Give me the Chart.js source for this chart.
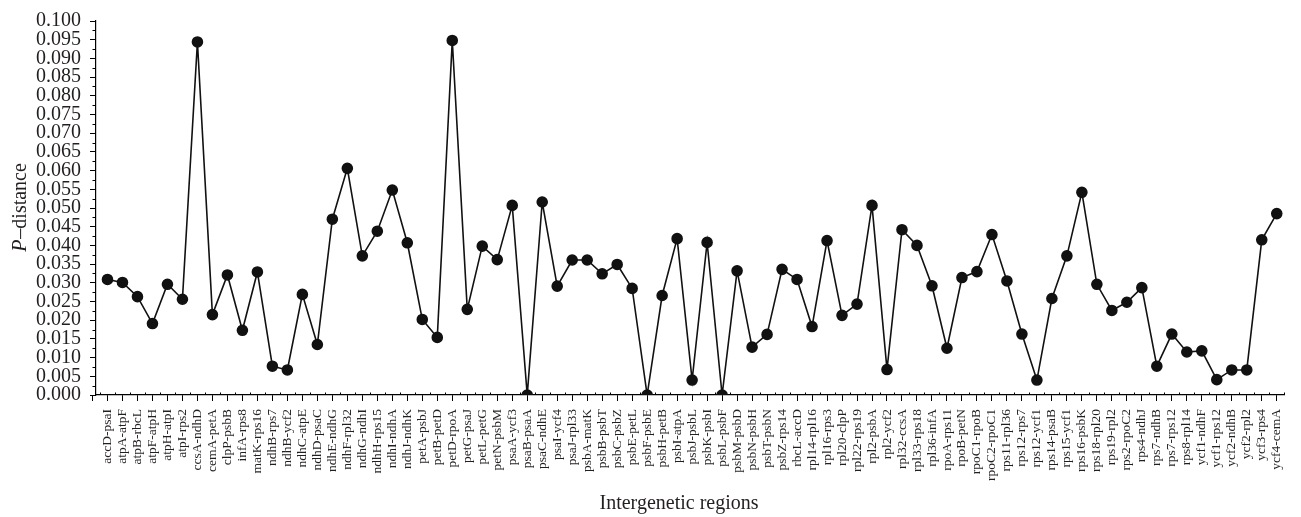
<!DOCTYPE html>
<html>
<head>
<meta charset="utf-8">
<script src="https://cdn.jsdelivr.net/npm/chart.js@4"></script>
<style>
  html, body { margin: 0; padding: 0; background: #fff; }
  #wrap { width: 1301px; height: 517px; position: relative; }
</style>
</head>
<body>
<div id="wrap"><canvas id="c" width="1301" height="517"></canvas></div>
<script>
const categories = [
  "accD-psaI","atpA-atpF","atpB-rbcL","atpF-atpH","atpH-atpI","atpI-rps2","ccsA-ndhD","cemA-petA",
  "clpP-psbB","infA-rps8","matK-rps16","ndhB-rps7","ndhB-ycf2","ndhC-atpE","ndhD-psaC","ndhE-ndhG",
  "ndhF-rpl32","ndhG-ndhI","ndhH-rps15","ndhI-ndhA","ndhJ-ndhK","petA-psbJ","petB-petD","petD-rpoA",
  "petG-psaJ","petL-petG","petN-psbM","psaA-ycf3","psaB-psaA","psaC-ndhE","psaI-ycf4","psaJ-rpl33",
  "psbA-matK","psbB-psbT","psbC-psbZ","psbE-petL","psbF-psbE","psbH-petB","psbI-atpA","psbJ-psbL",
  "psbK-psbI","psbL-psbF","psbM-psbD","psbN-psbH","psbT-psbN","psbZ-rps14","rbcL-accD","rpl14-rpl16",
  "rpl16-rps3","rpl20-clpP","rpl22-rps19","rpl2-psbA","rpl2-ycf2","rpl32-ccsA","rpl33-rps18","rpl36-infA",
  "rpoA-rps11","rpoB-petN","rpoC1-rpoB","rpoC2-rpoC1","rps11-rpl36","rps12-rps7","rps12-ycf1","rps14-psaB",
  "rps15-ycf1","rps16-psbK","rps18-rpl20","rps19-rpl2","rps2-rpoC2","rps4-ndhJ","rps7-ndhB","rps7-rps12",
  "rps8-rpl14","ycf1-ndhF","ycf1-rps12","ycf2-ndhB","ycf2-rpl2","ycf3-rps4","ycf4-cemA"
];

const pDistance = [
  0.0309, 0.0301, 0.0263, 0.0191, 0.0296, 0.0256, 0.0944, 0.0215,
  0.0321, 0.0173, 0.0329, 0.0077, 0.0067, 0.0269, 0.0135, 0.0470,
  0.0606, 0.0372, 0.0438, 0.0548, 0.0407, 0.0202, 0.0154, 0.0948,
  0.0229, 0.0398, 0.0362, 0.0507, 0.0000, 0.0516, 0.0291, 0.0361,
  0.0361, 0.0324, 0.0349, 0.0285, 0.0000, 0.0266, 0.0418, 0.0040,
  0.0408, 0.0000, 0.0332, 0.0128, 0.0162, 0.0336, 0.0309, 0.0183,
  0.0413, 0.0213, 0.0243, 0.0507, 0.0068, 0.0442, 0.0400, 0.0292,
  0.0125, 0.0314, 0.0330, 0.0429, 0.0305, 0.0163, 0.0040, 0.0258,
  0.0372, 0.0542, 0.0296, 0.0226, 0.0248, 0.0287, 0.0077, 0.0163,
  0.0115, 0.0118, 0.0041, 0.0067, 0.0067, 0.0415, 0.0485
];

const yTickValues = [0.000,0.005,0.010,0.015,0.020,0.025,0.030,0.035,0.040,0.045,0.050,
                     0.055,0.060,0.065,0.070,0.075,0.080,0.085,0.090,0.095,0.100];

const xTitle = "Intergenetic regions";
const yTitleItalic = "P";
const yTitleRest = "\u2013distance";

const INK = "#231f20";
const SERIF = "'Liberation Serif', 'DejaVu Serif', serif";

const extrasPlugin = {
  id: "extras",
  afterDraw(chart) {
    const ctx = chart.ctx;
    const xs = chart.scales.x, ys = chart.scales.y;
    const area = chart.chartArea;
    ctx.save();
    ctx.strokeStyle = "#000";
    ctx.lineWidth = 1;
    // y minor ticks
    for (let i = 0; i < yTickValues.length - 1; i++) {
      const v = (yTickValues[i] + yTickValues[i + 1]) / 2;
      const py = Math.round(ys.getPixelForValue(v)) + 0.5;
      ctx.beginPath();
      ctx.moveTo(area.left, py);
      ctx.lineTo(area.left - 3.5, py);
      ctx.stroke();
    }
    // x minor ticks (upward, small)
    for (let i = -1; i < categories.length; i++) {
      const px = Math.round(xs.getPixelForValue(i + 0.5)) + 0.5;
      if (px < area.left || px > area.right) continue;
      ctx.beginPath();
      ctx.moveTo(px, area.bottom);
      ctx.lineTo(px, area.bottom - 2.5);
      ctx.stroke();
    }
    // extra leading x tick
    const p0 = Math.round(xs.getPixelForValue(-1)) + 0.5;
    ctx.beginPath();
    ctx.moveTo(p0, area.bottom);
    ctx.lineTo(p0, area.bottom + 6);
    ctx.stroke();
    // left extension of x axis line
    ctx.beginPath();
    ctx.moveTo(area.left - 5, area.bottom + 0.5);
    ctx.lineTo(area.left, area.bottom + 0.5);
    ctx.stroke();

    // x title
    ctx.fillStyle = INK;
    ctx.font = "20px " + SERIF;
    ctx.textAlign = "center";
    ctx.textBaseline = "alphabetic";
    ctx.fillText(xTitle, 679, 509);

    // y title (rotated, mixed italic)
    ctx.translate(21, (area.top + area.bottom) / 2);
    ctx.rotate(-Math.PI / 2);
    ctx.textBaseline = "middle";
    ctx.textAlign = "left";
    ctx.font = "italic 20px " + SERIF;
    const w1 = ctx.measureText(yTitleItalic).width;
    ctx.font = "20px " + SERIF;
    const w2 = ctx.measureText(yTitleRest).width;
    const start = -(w1 + w2) / 2;
    ctx.font = "italic 20px " + SERIF;
    ctx.fillText(yTitleItalic, start, 0);
    ctx.font = "20px " + SERIF;
    ctx.fillText(yTitleRest, start + w1 + 1, 0);
    ctx.restore();
  }
};

new Chart(document.getElementById("c"), {
  type: "line",
  data: {
    datasets: [{
      data: pDistance.map((v, i) => ({ x: i, y: v })),
      borderColor: "#111",
      borderWidth: 1.6,
      backgroundColor: "#111",
      pointBackgroundColor: "#111",
      pointBorderColor: "#111",
      pointRadius: 5,
      pointHoverRadius: 5,
      tension: 0,
      fill: false
    }]
  },
  options: {
    responsive: false,
    animation: false,
    devicePixelRatio: 1,
    layout: { padding: { top: 18, right: 4, left: 0, bottom: 0 } },
    plugins: { legend: { display: false }, tooltip: { enabled: false }, title: { display: false } },
    scales: {
      x: {
        type: "linear",
        position: "bottom",
        min: -0.766,
        max: 78.53,
        afterBuildTicks: (s) => { s.ticks = categories.map((_, i) => ({ value: i })); },
        afterFit: (s) => { s.height = 122; },
        ticks: {
          autoSkip: false,
          minRotation: 90,
          maxRotation: 90,
          padding: 8,
          color: INK,
          font: { family: SERIF, size: 13.5 },
          callback: (v) => categories[v]
        },
        grid: { drawOnChartArea: false, drawTicks: true, tickLength: 6, color: "#000", lineWidth: 1 },
        border: { display: true, color: "#000", width: 1.2 }
      },
      y: {
        type: "linear",
        min: 0,
        max: 0.1,
        afterBuildTicks: (s) => { s.ticks = yTickValues.map(v => ({ value: v })); },
        afterFit: (s) => { s.width = 96; },
        ticks: {
          autoSkip: false,
          padding: 9,
          color: INK,
          font: { family: SERIF, size: 20 },
          callback: (v) => Number(v).toFixed(3)
        },
        grid: { drawOnChartArea: false, drawTicks: true, tickLength: 6, color: "#000", lineWidth: 1 },
        border: { display: true, color: "#000", width: 1.2 }
      }
    }
  },
  plugins: [extrasPlugin]
});
</script>
</body>
</html>
